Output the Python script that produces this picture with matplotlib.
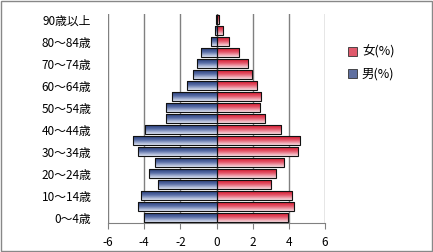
import matplotlib
matplotlib.use("Agg")
import matplotlib.pyplot as plt
import numpy as np
from matplotlib.colors import LinearSegmentedColormap
from matplotlib.patches import Patch, Rectangle

plt.rcParams['font.family'] = ['Noto Sans CJK JP', 'DejaVu Sans']

ages = ['0～4歳', '5～9歳', '10～14歳', '15～19歳', '20～24歳', '25～29歳',
        '30～34歳', '35～39歳', '40～44歳', '45～49歳', '50～54歳', '55～59歳',
        '60～64歳', '65～69歳', '70～74歳', '75～79歳', '80～84歳', '85～89歳',
        '90歳以上']
male = [4.02, 4.35, 4.17, 3.24, 3.74, 3.39, 4.35, 4.63, 3.98, 2.82, 2.82,
        2.47, 1.63, 1.30, 1.07, 0.87, 0.32, 0.09, 0.03]
female = [3.98, 4.26, 4.15, 3.04, 3.31, 3.76, 4.48, 4.59, 3.56, 2.70, 2.43,
          2.48, 2.22, 1.94, 1.72, 1.22, 0.70, 0.37, 0.15]
xticks = [-6, -4, -2, 0, 2, 4, 6]
legend_labels = ['女(%)', '男(%)']

fig = plt.figure(figsize=(4.33, 2.52), dpi=100)
ax = fig.add_axes([108/433, 1-223/252, 217/433, 209/252])

y = np.arange(len(ages))
blue_cmap = LinearSegmentedColormap.from_list('b', ['#1a2f6b', '#5a6fa8', '#dde3f2'])
red_cmap = LinearSegmentedColormap.from_list('r', ['#d0081e', '#e4566a', '#f7dde2'])
grad = np.linspace(0, 1, 64).reshape(-1, 1)

bm = ax.barh(y, [-v for v in male], height=0.88, color='none', edgecolor='#111111', linewidth=0.8, zorder=4)
bf = ax.barh(y, female, height=0.88, color='none', edgecolor='#111111', linewidth=0.8, zorder=4)

for bars, cmap in ((bm, blue_cmap), (bf, red_cmap)):
    for p in bars:
        x0, y0 = p.get_x(), p.get_y()
        w, h = p.get_width(), p.get_height()
        im = ax.imshow(grad, cmap=cmap, aspect='auto', origin='upper',
                       extent=[x0, x0 + w, y0, y0 + h], zorder=3, interpolation='bilinear')
        im.set_clip_path(p)

ax.set_xlim(-6, 6)
ax.set_ylim(-0.5, len(ages) - 0.5)
ax.set_xticks(xticks)
ax.set_xticklabels([str(t) for t in xticks])
ax.set_yticks(y[::2])
ax.set_yticklabels(ages[::2])
ax.grid(axis='x', color='#808080', linewidth=1, zorder=1)
ax.axvline(0, color='#606060', linewidth=1, zorder=2)
for s in ['top', 'right', 'left']:
    ax.spines[s].set_visible(False)
ax.spines['bottom'].set_color('#808080')
ax.tick_params(axis='x', length=4, color='#808080', labelsize=8.5, pad=5, direction='out')
ax.tick_params(axis='y', length=0, labelsize=8.5, pad=12)

handles = [Patch(facecolor='#e05a6c', edgecolor='#333333', linewidth=0.6),
           Patch(facecolor='#6070a0', edgecolor='#333333', linewidth=0.6)]
fig.legend(handles, legend_labels, loc='upper left', bbox_to_anchor=(337/433, 1-34/252),
           frameon=False, fontsize=9, handlelength=0.7, handleheight=0.7,
           handletextpad=0.4, labelspacing=0.75)

fig.patches.append(Rectangle((0.002, 0.004), 0.995, 0.992, transform=fig.transFigure,
                             fill=False, edgecolor='#888888', linewidth=1))
fig.savefig('out.png', dpi=100)
